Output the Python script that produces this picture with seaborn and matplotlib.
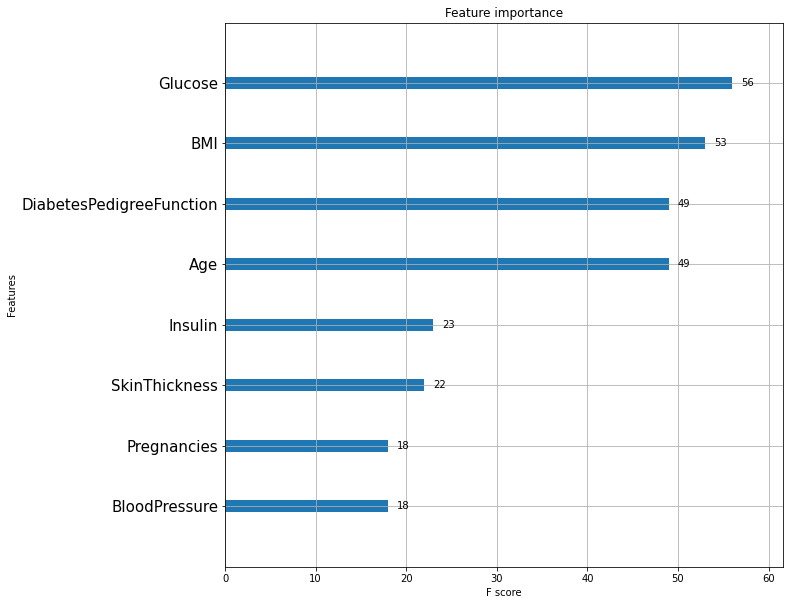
import matplotlib
matplotlib.use("Agg")
import matplotlib.pyplot as plt
import seaborn as sns
import pandas as pd

features = ["Glucose", "BMI", "DiabetesPedigreeFunction", "Age",
            "Insulin", "SkinThickness", "Pregnancies", "BloodPressure"]
scores = [56, 53, 49, 49, 23, 22, 18, 18]

df = pd.DataFrame({"feature": features, "score": scores})

fig = plt.figure(figsize=(790/72, 604/72), dpi=72)
ax = fig.add_axes([225/790, 1-566.5/604, (783-225)/790, (566.5-22.5)/604])

sns.barplot(data=df, x="score", y="feature", order=features, orient="h",
            width=0.2, color="#1f77b4", saturation=1, ax=ax)

for i, v in enumerate(scores):
    ax.text(v + 1, i, str(v), va="center", fontsize=10)

ax.set_xlim(0, max(scores) * 1.1)
ax.set_ylim(len(features), -1)
ax.set_axisbelow("line")
ax.grid(True, color="#b0b0b0", linewidth=0.8)
ax.set_title("Feature importance", fontsize=12)
ax.set_xlabel("F score", fontsize=10)
ax.set_ylabel("Features", fontsize=10)
ax.tick_params(axis="y", labelsize=15)
ax.tick_params(axis="x", labelsize=10)
for s in ax.spines.values():
    s.set_visible(True)
    s.set_color("black")

fig.savefig("out.png", dpi=72)
